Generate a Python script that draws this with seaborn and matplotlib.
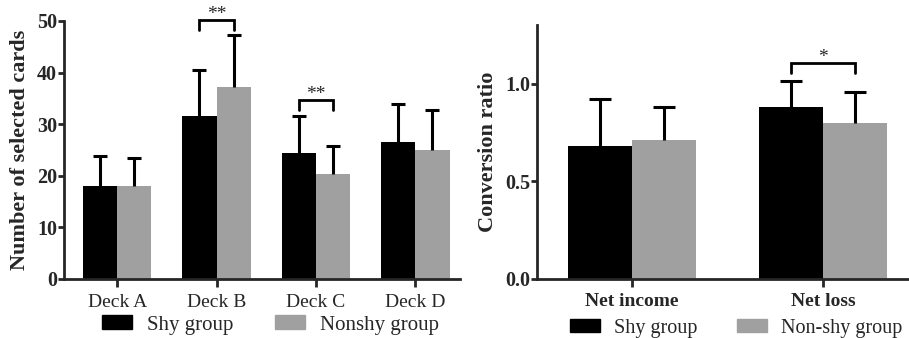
import numpy as np
import pandas as pd
import seaborn as sns
import matplotlib
matplotlib.use("Agg")
import matplotlib.pyplot as plt
from matplotlib.patches import Patch

# data
decks = ["Deck A", "Deck B", "Deck C", "Deck D"]
shy_cards = [18.0, 31.6, 24.4, 26.5]
shy_cards_sd = [5.9, 9.0, 7.1, 7.4]
nonshy_cards = [18.0, 37.3, 20.3, 25.0]
nonshy_cards_sd = [5.4, 9.9, 5.5, 7.8]

outcomes = ["Net income", "Net loss"]
shy_ratio = [0.68, 0.88]
shy_ratio_sd = [0.24, 0.135]
nonshy_ratio = [0.71, 0.80]
nonshy_ratio_sd = [0.17, 0.155]

BLACK = "#000000"
GRAY = "#a0a0a0"

sns.set_style("ticks")
plt.rcParams["font.family"] = ["Liberation Serif", "DejaVu Serif"]

#build long dataframe for seaborn
def make_frame(cats, a, b, la, lb):
    return pd.DataFrame({
        "cat": cats + cats,
        "value": a + b,
        "group": [la] * len(cats) + [lb] * len(cats),
    })

#draw upper-only error bars (stem + top cap) for each bar container
def add_errors(ax, sds, capwidth, lw=2.2):
    for cont, sd in zip(ax.containers, sds):
        xs = np.array([p.get_x() + p.get_width() / 2 for p in cont])
        ys = np.array([p.get_height() for p in cont])
        ax.errorbar(xs, ys, yerr=[np.zeros(len(sd)), sd], fmt="none",
                    ecolor="black", elinewidth=lw, capsize=0, zorder=1)
        ax.plot(xs, ys + np.array(sd), ls="none", marker="_", color="black",
                markersize=capwidth, markeredgewidth=lw, zorder=1)

#significance bracket between the two bars of one category
def add_bracket(ax, i, y_top, drop, label, fs=14):
    p1 = ax.containers[0][i]
    p2 = ax.containers[1][i]
    x1 = p1.get_x() + p1.get_width() / 2
    x2 = p2.get_x() + p2.get_width() / 2
    ax.plot([x1, x1, x2, x2], [y_top - drop, y_top, y_top, y_top - drop],
            color="black", lw=2, clip_on=False, solid_joinstyle="miter")
    ax.annotate(label, ((x1 + x2) / 2, y_top), xytext=(0, 1),
                textcoords="offset points", ha="center", va="baseline",
                fontsize=fs, annotation_clip=False)

def style_axis(ax):
    sns.despine(ax=ax)
    for s in ["left", "bottom"]:
        ax.spines[s].set_linewidth(2)
    ax.tick_params(axis="x", direction="out", length=5.5, width=2, pad=5)
    ax.tick_params(axis="y", direction="out", length=4.5, width=2, pad=0.5)
    ax.set_xlabel("")

fig = plt.figure(figsize=(9.09, 3.38), dpi=100)
W, H = 909, 338
ax1 = fig.add_axes([64 / W, (H - 279) / H, (460 - 64) / W, (279 - 21) / H])
ax2 = fig.add_axes([537 / W, (H - 278.7) / H, (909 - 537) / W, (278.7 - 25) / H])

# left panel: selected cards
df1 = make_frame(decks, shy_cards, nonshy_cards, "Shy group", "Nonshy group")
sns.barplot(data=df1, x="cat", y="value", hue="group", palette=[BLACK, GRAY],
            saturation=1, width=0.69, errorbar=None, legend=False, ax=ax1,
            linewidth=0)
add_errors(ax1, [shy_cards_sd, nonshy_cards_sd], capwidth=10)
ax1.set_ylim(0, 50)
ax1.set_xlim(-0.535, 3.45)
ax1.set_yticks([0, 10, 20, 30, 40, 50])
style_axis(ax1)
ax1.set_ylabel("Number of selected cards", fontsize=16, fontweight="bold", labelpad=5)
for t in ax1.get_yticklabels():
    t.set_fontsize(14.5)
    t.set_fontweight("bold")
for t in ax1.get_xticklabels():
    t.set_fontsize(14)
add_bracket(ax1, 1, 50.2, 2.0, "**")
add_bracket(ax1, 2, 34.7, 2.0, "**")

# right panel: conversion ratio
df2 = make_frame(outcomes, shy_ratio, nonshy_ratio, "Shy group", "Non-shy group")
sns.barplot(data=df2, x="cat", y="value", hue="group", palette=[BLACK, GRAY],
            saturation=1, width=0.67, errorbar=None, legend=False, ax=ax2,
            linewidth=0)
add_errors(ax2, [shy_ratio_sd, nonshy_ratio_sd], capwidth=16)
ax2.set_ylim(0, 1.3)
ax2.set_xlim(-0.497, 1.45)
ax2.set_yticks([0.0, 0.5, 1.0])
ax2.set_yticklabels(["0.0", "0.5", "1.0"])
style_axis(ax2)
ax2.set_ylabel("Conversion ratio", fontsize=16, fontweight="bold", labelpad=5)
for t in ax2.get_yticklabels():
    t.set_fontsize(14.5)
    t.set_fontweight("bold")
for t in ax2.get_xticklabels():
    t.set_fontsize(14)
    t.set_fontweight("bold")
add_bracket(ax2, 1, 1.103, 0.05, "*")

# legends under each panel
h1 = [Patch(color=BLACK), Patch(color=GRAY)]
fig.legend(h1, ["Shy group", "Nonshy group"], loc="center left",
           bbox_to_anchor=(102 / W, 1 - 325 / H), ncol=2, frameon=False,
           fontsize=15, borderpad=0, borderaxespad=0, handlelength=1.45,
           handleheight=0.65, handletextpad=0.7, columnspacing=2.0)
fig.legend(h1, ["Shy group", "Non-shy group"], loc="center left",
           bbox_to_anchor=(570 / W, 1 - 328 / H), ncol=2, frameon=False,
           fontsize=14.5, borderpad=0, borderaxespad=0, handlelength=1.5,
           handleheight=0.65, handletextpad=0.7, columnspacing=1.95)

fig.savefig("out.png", dpi=100)
